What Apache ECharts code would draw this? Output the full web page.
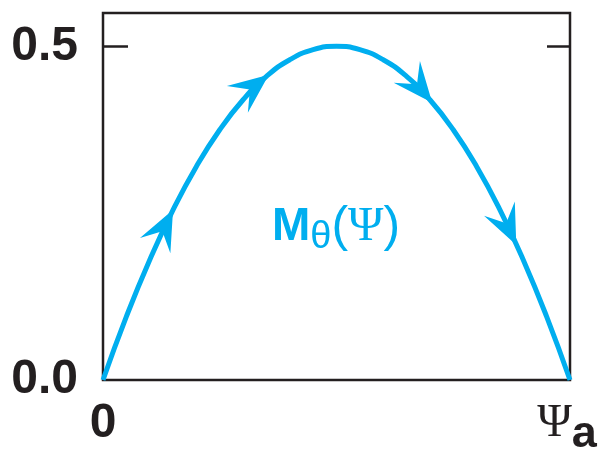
<!DOCTYPE html>
<html>
<head>
<meta charset="utf-8">
<style>
  html, body { margin: 0; padding: 0; background: #ffffff; }
  #chart { width: 598px; height: 451px; }
</style>
<script src="https://cdn.jsdelivr.net/npm/echarts@6/dist/echarts.min.js"></script>
</head>
<body>
<div id="chart"></div>
<script>
// Normalised flux Psi / Psi_a along the horizontal axis
const psiValues = [0, 0.05, 0.1, 0.15, 0.2, 0.25, 0.3, 0.35, 0.4, 0.45, 0.5,
                   0.55, 0.6, 0.65, 0.7, 0.75, 0.8, 0.85, 0.9, 0.95, 1];
// M_theta(Psi) along that flux
const mThetaValues = [0, 0.095, 0.18, 0.255, 0.32, 0.375, 0.42, 0.455, 0.48, 0.495, 0.5,
                      0.495, 0.48, 0.455, 0.42, 0.375, 0.32, 0.255, 0.18, 0.095, 0];
// Where the direction arrows sit on the curve (Psi positions)
const arrowPsi = [0.15, 0.355, 0.705, 0.885];
// Axis tick values
const yTicks = [0, 0.5];
const xTicks = [0, 1];

const CYAN = '#00aeef';
const INK = '#231f20';

const curveData = psiValues.map((p, i) => [p, mThetaValues[i]]);

// Linear lookup of the curve at an arbitrary Psi
function curveAt(p) {
  for (let i = 0; i < psiValues.length - 1; i++) {
    const a = psiValues[i], b = psiValues[i + 1];
    if (p >= a && p <= b) {
      const t = (p - a) / (b - a);
      return mThetaValues[i] + t * (mThetaValues[i + 1] - mThetaValues[i]);
    }
  }
  return mThetaValues[mThetaValues.length - 1];
}

const arrowData = arrowPsi.map(p => [p, curveAt(p)]);

const chart = echarts.init(document.getElementById('chart'), null, { renderer: 'canvas' });

chart.setOption({
  animation: false,
  grid: {
    left: 103, right: 28, top: 13, bottom: 71,
    outerBoundsMode: 'none',
    containLabel: false,
    show: true, borderColor: INK, borderWidth: 2.5, backgroundColor: 'transparent'
  },
  xAxis: {
    type: 'value', min: 0, max: 1,
    axisLine: { show: false },
    axisTick: { show: false },
    splitLine: { show: false },
    axisLabel: {
      customValues: xTicks,
      margin: 20,
      formatter: v => (v === 0 ? '{n|0}' : '{psi|\u03A8}{sub|a}'),
      rich: {
        n: { fontFamily: 'Liberation Sans', fontWeight: 'bold', fontSize: 48, color: INK, lineHeight: 48 },
        psi: { fontFamily: 'Liberation Serif', fontWeight: 'normal', fontSize: 47, color: INK, lineHeight: 48 },
        sub: { fontFamily: 'Liberation Sans', fontWeight: 'bold', fontSize: 45, color: INK, lineHeight: 48, padding: [22, 6, 0, 0] }
      }
    }
  },
  yAxis: [{
    type: 'value', min: 0, max: 0.55, position: 'left',
    axisLine: { show: false },
    splitLine: { show: false },
    axisTick: { show: true, inside: true, length: 25, customValues: [0.5], lineStyle: { color: INK, width: 2.5 } },
    axisLabel: {
      customValues: yTicks, margin: 25,
      formatter: v => v.toFixed(1),
      fontFamily: 'Liberation Sans', fontWeight: 'bold', fontSize: 48, color: INK
    }
  }, {
    type: 'value', min: 0, max: 0.55, position: 'right',
    axisLine: { show: false },
    splitLine: { show: false },
    axisLabel: { show: false },
    axisTick: { show: true, inside: true, length: 23, customValues: [0.5], lineStyle: { color: INK, width: 2.5 } }
  }],
  series: [{
    type: 'line',
    data: curveData,
    smooth: true,
    showSymbol: false,
    lineStyle: { color: CYAN, width: 5 },
    z: 3
  }, {
    type: 'custom',
    data: arrowData,
    z: 4,
    renderItem: function (params, api) {
      const p = api.value(0);
      const tip = api.coord([p, api.value(1)]);
      const a = api.coord([p - 0.01, curveAt(p - 0.01)]);
      const b = api.coord([p + 0.01, curveAt(p + 0.01)]);
      const ang = Math.atan2(b[1] - a[1], b[0] - a[0]);
      const c = Math.cos(ang), s = Math.sin(ang);
      // arrowhead outline, tip at origin, pointing along +x
      const shape = [[0, 0], [-40, -17], [-24, 0], [-40, 17]];
      const pts = shape.map(([x, y]) => [tip[0] + x * c - y * s, tip[1] + x * s + y * c]);
      return { type: 'polygon', shape: { points: pts }, style: { fill: CYAN } };
    }
  }],
  graphic: [{
    type: 'text',
    left: 272, top: 197,
    style: {
      text: '{m|M}{th|\u03B8}{p|(}{psi|\u03A8}{p|)}',
      rich: {
        m: { fontFamily: 'Liberation Sans', fontWeight: 'bold', fontSize: 46, fill: CYAN, lineHeight: 56 },
        th: { fontFamily: 'Liberation Sans', fontSize: 38, fill: CYAN, lineHeight: 56, padding: [22, 0, 0, 0] },
        p: { fontFamily: 'Liberation Sans', fontSize: 50, fill: CYAN, lineHeight: 56 },
        psi: { fontFamily: 'Liberation Serif', fontSize: 48, fill: CYAN, lineHeight: 56 }
      }
    }
  }]
});
</script>
</body>
</html>
